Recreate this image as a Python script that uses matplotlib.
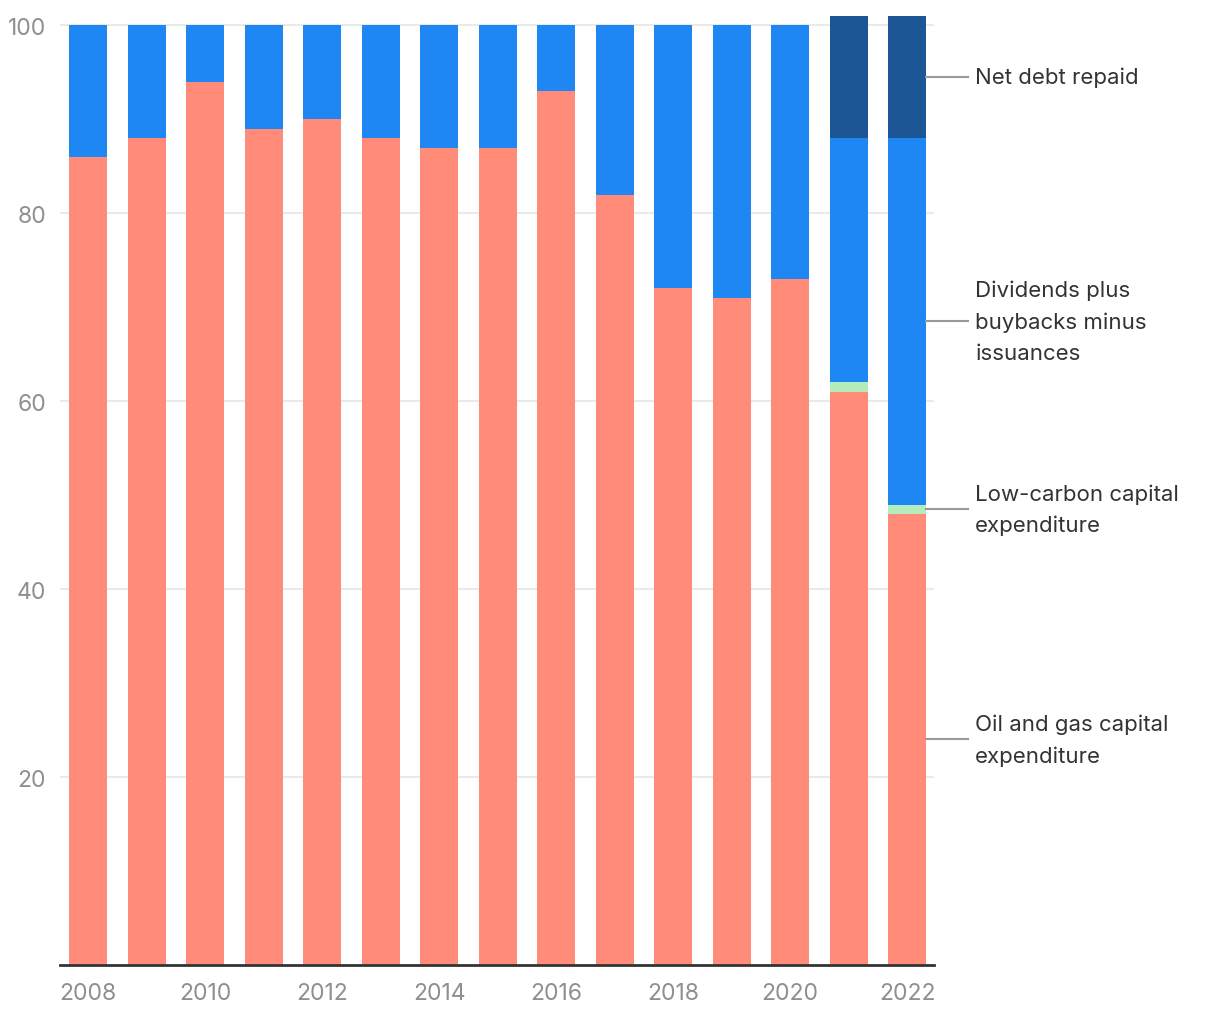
import matplotlib
matplotlib.use("Agg")
import matplotlib.pyplot as plt
import numpy as np

years = list(range(2008, 2023))
oil_gas_capex = [86, 88, 94, 89, 90, 88, 87, 87, 93, 82, 72, 71, 73, 61, 48]
low_carbon_capex = [0, 0, 0, 0, 0, 0, 0, 0, 0, 0, 0, 0, 0, 1, 1]
dividends_buybacks = [14, 12, 6, 11, 10, 12, 13, 13, 7, 18, 28, 29, 27, 26, 39]
net_debt_repaid = [0, 0, 0, 0, 0, 0, 0, 0, 0, 0, 0, 0, 0, 13, 13]

series = [
    ("Oil and gas capital\nexpenditure", oil_gas_capex, "#FF8B78"),
    ("Low-carbon capital\nexpenditure", low_carbon_capex, "#B4EDBB"),
    ("Dividends plus\nbuybacks minus\nissuances", dividends_buybacks, "#1E87F4"),
    ("Net debt repaid", net_debt_repaid, "#1D5695"),
]

plt.rcParams['font.family'] = ['Inter', 'DejaVu Sans']

fig = plt.figure(figsize=(12.2, 10.2), dpi=100)
ax = fig.add_axes([60 / 1220, (1020 - 966) / 1020, (934 - 60) / 1220, (966 - 17) / 1020])

x = np.array(years)
bottom = np.zeros(len(years))
width = 0.65
mids = []
for label, vals, color in series:
    v = np.array(vals, dtype=float)
    ax.bar(x, v, bottom=bottom, width=width, color=color, zorder=2, linewidth=0)
    mids.append(bottom[-1] + v[-1] / 2)
    bottom = bottom + v

ax.set_xlim(years[0] - 0.48, years[-1] + 0.46)
ax.set_ylim(0, 101)
ax.set_yticks([20, 40, 60, 80, 100])
ax.set_xticks(years[::2])
ax.yaxis.grid(True, color="#E6E6E6", linewidth=1.2, zorder=0)
ax.set_axisbelow(True)
for s in ["left", "right", "top"]:
    ax.spines[s].set_visible(False)
ax.spines["bottom"].set_color("#333333")
ax.spines["bottom"].set_linewidth(2)
ax.tick_params(axis="both", length=0, labelsize=16.5, labelcolor="#8F8F8F")
ax.tick_params(axis="y", pad=10)
ax.tick_params(axis="x", pad=12)

x_end = years[-1] + width / 2
for (label, vals, color), m in zip(series, mids):
    ax.plot([x_end, x_end + 0.72], [m, m], color="#999999", linewidth=1.5,
            clip_on=False, zorder=3)
    ax.text(x_end + 0.84, m, label, fontsize=16, color="#333333",
            va="center", ha="left", linespacing=1.68, clip_on=False)

fig.savefig("out.png", dpi=100)
